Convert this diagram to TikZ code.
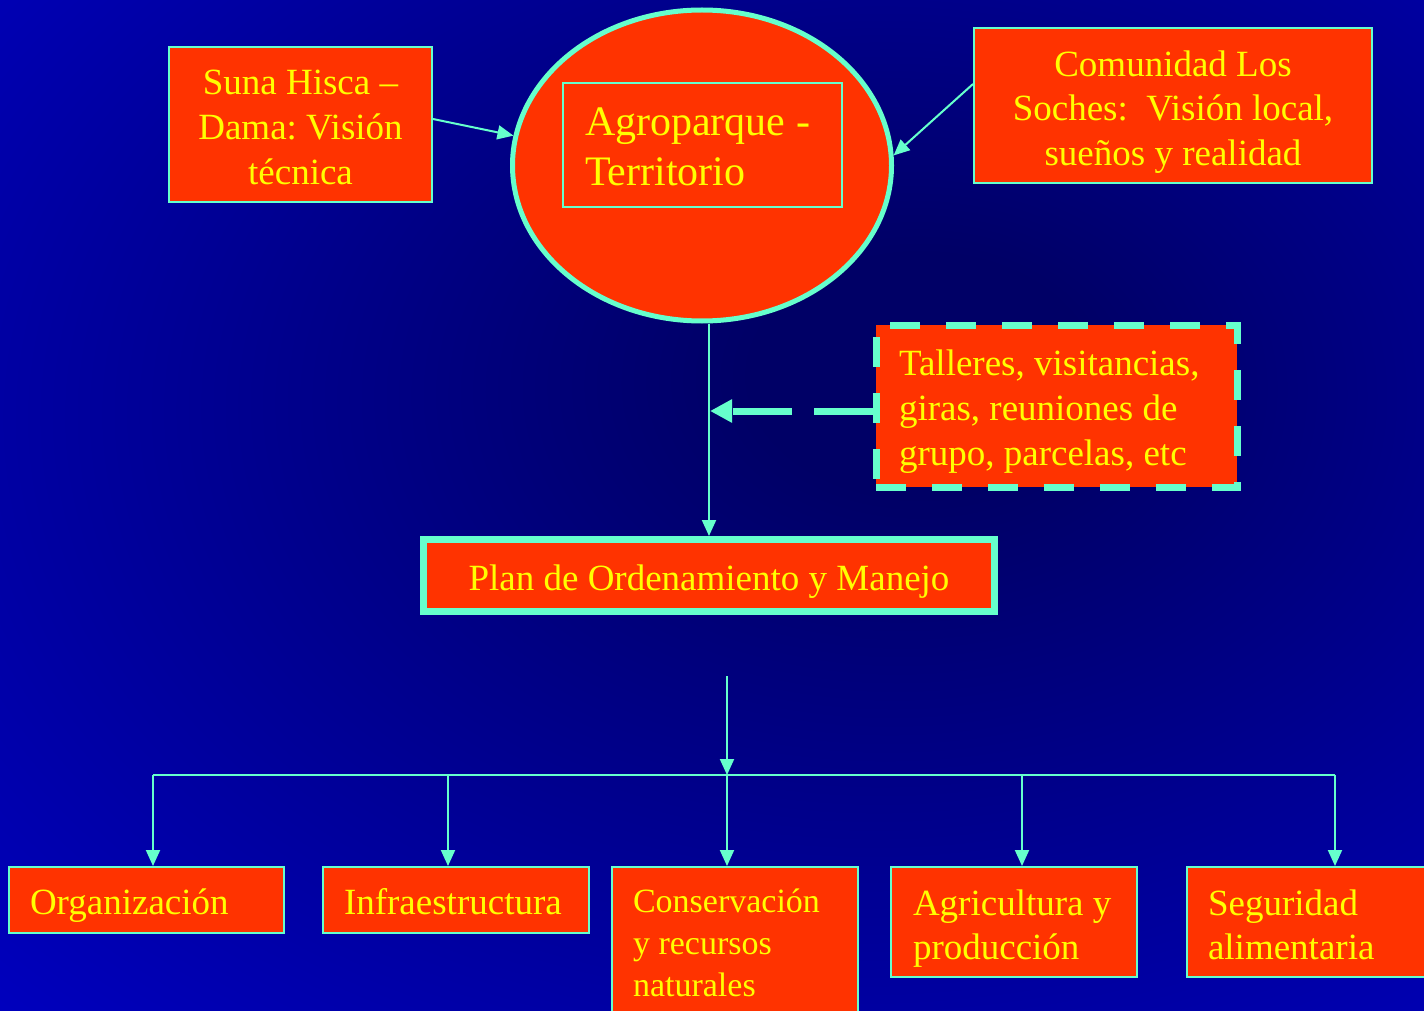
\documentclass[tikz,border=0pt]{standalone}
\usepackage{fontspec}
\setmainfont{Liberation Serif}
\frenchspacing
\usetikzlibrary{shapes.geometric,arrows.meta}
\definecolor{boxred}{HTML}{FF3300}
\definecolor{txtyellow}{HTML}{FFFF00}
\definecolor{aqua}{HTML}{66FFCC}
\definecolor{bgcore}{HTML}{000066}
\definecolor{bgedge}{HTML}{0000CC}
\pgfdeclareradialshading{slideglow}{\pgfpoint{8bp}{7bp}}{color(0bp)=(bgcore); color(6bp)=(bgcore); color(46bp)=(bgedge); color(75bp)=(bgedge)}

\begin{document}
\begin{tikzpicture}[x=1pt,y=-1pt,
  box/.style={draw=aqua,fill=boxred,text=txtyellow,line width=2pt,inner sep=0pt,font=\fontsize{37}{45}\selectfont,text height=33.5pt,text depth=4.5pt},
  leftbox/.style={box,align=flush left,inner xsep=21pt},
  link/.style={draw=aqua,line width=2pt},
  arr/.style={link,-{Triangle[length=16pt,width=14pt]}},
  dasharr/.style={draw=aqua,line width=7pt,dash pattern=on 59pt off 22pt,-{Triangle[length=22pt,width=22pt]}}]
\useasboundingbox (0,0) rectangle (1424,1011);
\shade[shading=slideglow] (0,0) rectangle (1424,1011);

\node[box,minimum width=263pt,minimum height=155pt,align=center,text height=124.5pt] (suna) at (300.5,124.5) {Suna Hisca –\\Dama: Visión\\técnica};
\node[box,minimum width=398pt,minimum height=155pt,align=center,text height=124.5pt,font=\fontsize{37}{44.5}\selectfont] (comu) at (1173,105.5) {Comunidad Los\\Soches:\ \ Visión local,\\sueños y realidad};
\node[ellipse,draw=aqua,fill=boxred,line width=5pt,minimum width=379pt,minimum height=311pt,inner sep=0pt] (agro) at (702,165.5) {};
\node[leftbox,inner xsep=22pt,text width=235pt,minimum height=124pt,font=\fontsize{42}{50}\selectfont,text height=37pt,text depth=56pt] (terr) at (702.5,145) {Agroparque -\\Territorio};
\node[leftbox,inner xsep=23pt,text width=315pt,minimum height=162pt,line width=7pt,dash pattern=on 30pt off 26pt,text depth=95.5pt] (talleres) at (1056.5,406) {Talleres, visitancias,\\giras, reuniones de\\grupo, parcelas, etc};
\node[box,minimum width=571pt,minimum height=72pt,line width=7pt] (plan) at (709,575.5) {Plan de Ordenamiento y Manejo};

\node[leftbox,text width=233pt,minimum height=66pt] (org) at (146.5,900) {Organización};
\node[leftbox,text width=224pt,minimum height=66pt] (infra) at (456,900) {Infraestructura};
\node[leftbox,text width=204pt,minimum height=147pt,font=\fontsize{34}{42}\selectfont,text height=31.5pt,text depth=87.5pt] (cons) at (735,940.5) {Conservación\\y recursos\\naturales};
\node[leftbox,inner xsep=22pt,text width=202pt,minimum height=110pt,font=\fontsize{37}{44}\selectfont,text depth=47.5pt] (agri) at (1014,922) {Agricultura y\\producción};
\node[leftbox,text width=204pt,minimum height=110pt,font=\fontsize{37}{44}\selectfont,text depth=47.5pt] (segu) at (1310,922) {Seguridad\\alimentaria};

\coordinate (meet) at (710,411);
\coordinate (feed) at (727,676);
\coordinate (bus) at (727,775);

\draw[arr] ([yshift=5.5pt]suna.east) -- (agro.171);
\draw[arr] ([yshift=21.5pt]comu.west) -- (agro.3);
\draw[arr] (plan.north |- agro.south) -- (plan.north);
\draw[dasharr] ([yshift=-5pt]talleres.west) -- (meet);
\draw[arr] (feed) -- (bus);
\draw[link] ([xshift=6.5pt]org.north |- bus) -- ([xshift=25pt]segu.north |- bus);
\foreach \b/\dx in {org/6.5,infra/-8,cons/-8,agri/8,segu/25}
  \draw[arr] ([xshift=\dx pt]\b.north |- bus) -- ([xshift=\dx pt]\b.north);
\end{tikzpicture}
\end{document}
